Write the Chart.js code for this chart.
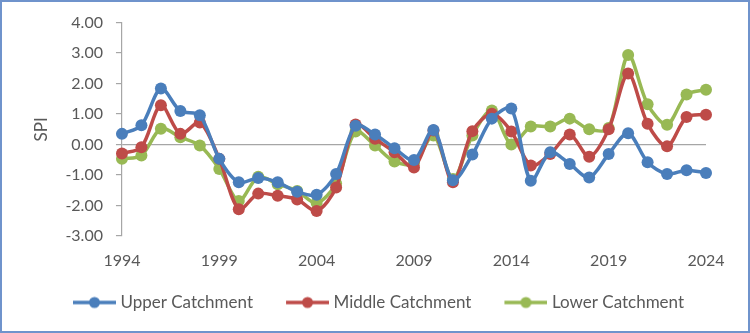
<!DOCTYPE html>
<html>
<head>
<meta charset="utf-8">
<script src="https://cdn.jsdelivr.net/npm/chart.js@4"></script>
<style>
html,body{margin:0;padding:0;background:#fff;}
#wrap{position:relative;width:750px;height:333px;}
</style>
</head>
<body>
<div id="wrap"><canvas id="c" width="750" height="333"></canvas></div>
<script>
const years = [1994,1995,1996,1997,1998,1999,2000,2001,2002,2003,2004,2005,2006,2007,2008,2009,2010,2011,2012,2013,2014,2015,2016,2017,2018,2019,2020,2021,2022,2023,2024];
const upper  = [0.35,0.63,1.84,1.10,0.96,-0.47,-1.24,-1.10,-1.24,-1.55,-1.65,-0.97,0.62,0.33,-0.12,-0.51,0.48,-1.17,-0.33,0.85,1.18,-1.19,-0.25,-0.64,-1.08,-0.31,0.37,-0.58,-0.97,-0.84,-0.93];
const middle = [-0.29,-0.09,1.29,0.35,0.72,-0.47,-2.12,-1.61,-1.68,-1.80,-2.18,-1.41,0.66,0.19,-0.25,-0.75,0.46,-1.24,0.44,1.01,0.43,-0.69,-0.31,0.33,-0.40,0.50,2.33,0.68,-0.06,0.90,0.98];
const lower  = [-0.47,-0.36,0.52,0.24,-0.03,-0.80,-1.85,-1.06,-1.30,-1.52,-1.92,-1.28,0.43,-0.03,-0.56,-0.62,0.30,-1.13,0.30,1.12,0.00,0.59,0.59,0.85,0.50,0.54,2.94,1.32,0.65,1.64,1.80];
const seriesNames = ['Upper Catchment','Middle Catchment','Lower Catchment'];
const yTicks = [4,3,2,1,0,-1,-2,-3];

const colors = ['#4A7EBB','#BE4B48','#98B954'];
const FONT = 'Lato, "Liberation Sans", sans-serif';

// legend icon: line with a dot, drawn in the right part of a wider transparent canvas
function legendIcon(color){
  const cv = document.createElement('canvas');
  cv.width = 70; cv.height = 14;
  const g = cv.getContext('2d');
  g.strokeStyle = color; g.lineWidth = 3.5;
  g.beginPath(); g.moveTo(27,7); g.lineTo(70,7); g.stroke();
  g.fillStyle = color;
  g.beginPath(); g.arc(48.5,7,5.5,0,Math.PI*2); g.fill();
  return cv;
}

const borderPlugin = {
  id:'outerBorder',
  afterDraw(chart){
    const ctx = chart.ctx;
    ctx.save();
    ctx.strokeStyle = '#6F93CC';
    ctx.lineWidth = 2;
    ctx.strokeRect(1,1,chart.width-2,chart.height-2);
    ctx.restore();
  }
};

const data = [upper, middle, lower];
new Chart(document.getElementById('c'), {
  type:'line',
  data:{
    labels: years.map(String),
    datasets: seriesNames.map((n,i)=>({
      label:n,
      data:data[i],
      borderColor:colors[i],
      backgroundColor:colors[i],
      borderWidth:3.5,
      pointRadius:6,
      pointHoverRadius:6,
      pointBorderWidth:0,
      pointStyle:'circle',
      tension:0.3
    }))
  },
  options:{
    responsive:false,
    animation:false,
    devicePixelRatio:1,
    layout:{padding:{left:28,right:44,top:22,bottom:12}},
    plugins:{
      legend:{
        position:'bottom',
        labels:{
          usePointStyle:true,
          pointStyleWidth:62,
          boxHeight:14,
          padding:10,
          color:'#595959',
          font:{family:FONT,size:17},
          generateLabels(chart){
            return chart.data.datasets.map((d,i)=>({
              text:d.label,
              pointStyle:legendIcon(colors[i]),
              fillStyle:colors[i],
              strokeStyle:colors[i],
              lineWidth:0,
              fontColor:'#595959',
              datasetIndex:i,
              hidden:false
            }));
          }
        }
      },
      tooltip:{enabled:false}
    },
    scales:{
      x:{
        type:'category',
        offset:false,
        grid:{display:false,drawTicks:false},
        border:{display:false},
        afterFit(s){ s.height = 48; },
        ticks:{
          autoSkip:false,
          maxRotation:0,
          padding:15,
          color:'#595959',
          font:{family:FONT,size:16},
          callback:(v,i)=> (i%5===0 ? years[i] : '')
        }
      },
      y:{
        min:-3,max:4,
        afterBuildTicks(axis){ axis.ticks = yTicks.map(v=>({value:v})); },
        grid:{
          color:(c)=> (c.tick && c.tick.value===0 ? '#A6A6A6' : 'rgba(0,0,0,0)'),
          tickColor:'#A6A6A6',
          tickLength:6,
          lineWidth:1.2
        },
        border:{display:true,color:'#A6A6A6',width:1.2},
        title:{display:true,text:'SPI',color:'#595959',font:{family:FONT,size:17},padding:{top:3,bottom:1}},
        ticks:{
          color:'#595959',
          padding:13,
          font:{family:FONT,size:16},
          callback:(v)=> Number(v).toFixed(2)
        }
      }
    }
  },
  plugins:[borderPlugin]
});
</script>
</body>
</html>
